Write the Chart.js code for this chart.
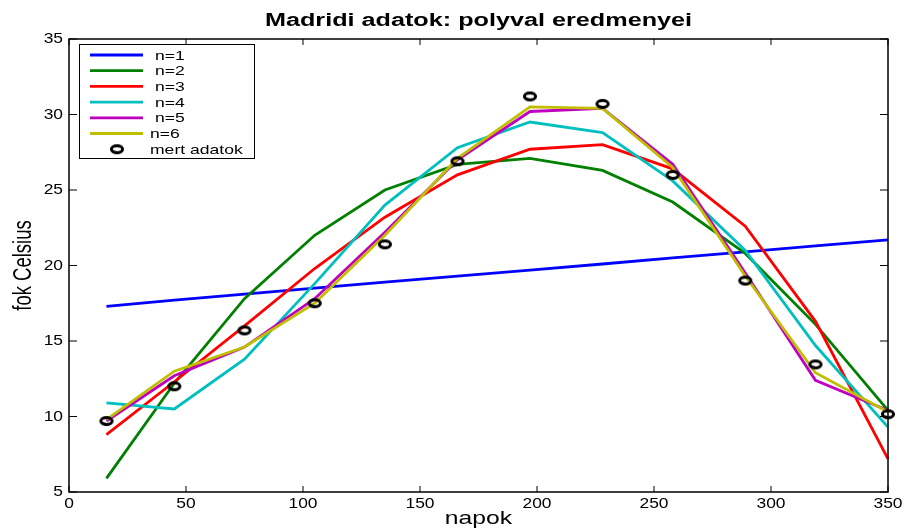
<!DOCTYPE html>
<html lang="hu">
<head>
    <meta charset="UTF-8">
    <title>Madridi adatok: polyval eredmenyei</title>
    <script src="https://cdnjs.cloudflare.com/ajax/libs/Chart.js/4.4.1/chart.umd.min.js"></script>
    <style>
        * { margin: 0; padding: 0; box-sizing: border-box; }
        body { background: #fff; }
        canvas { display: block; }
    </style>
</head>
<body>
    <canvas id="chart" width="904" height="529"></canvas>

    <script>
        // napok (mid-month day of year)
        const days = [16, 45, 75, 105, 135, 166, 197, 228, 258, 289, 319, 350];

        // mert adatok
        const measured = [9.7, 12.0, 15.7, 17.5, 21.4, 26.9, 31.2, 30.7, 26.0, 19.0, 13.45, 10.15];

        // polyval results for degree n = 1..6
        const fitN1 = [17.3, 17.7, 18.1, 18.5, 18.9, 19.3, 19.7, 20.1, 20.5, 20.9, 21.3, 21.7];
        const fitN2 = [5.9, 12.2, 17.8, 22.0, 25.0, 26.7, 27.1, 26.3, 24.2, 20.8, 16.1, 10.4];
        const fitN3 = [8.8, 12.3, 16.0, 19.8, 23.2, 26.0, 27.7, 28.0, 26.4, 22.6, 16.3, 7.2];
        const fitN4 = [10.9, 10.5, 13.8, 18.8, 24.0, 27.8, 29.5, 28.8, 25.6, 21.0, 14.7, 9.3];
        const fitN5 = [9.7, 12.7, 14.6, 17.8, 22.2, 27.0, 30.2, 30.4, 26.7, 19.5, 12.4, 10.4];
        const fitN6 = [9.8, 13.0, 14.6, 17.5, 22.0, 27.1, 30.5, 30.4, 26.5, 19.3, 12.9, 10.3];

        const seriesLabels = ['n=1', 'n=2', 'n=3', 'n=4', 'n=5', 'n=6'];
        const seriesColors = ['#0000FF', '#008000', '#FF0000', '#00BFBF', '#BF00BF', '#BFBF00'];
        const fits = [fitN1, fitN2, fitN3, fitN4, fitN5, fitN6];

        const xTickValues = [0, 50, 100, 150, 200, 250, 300, 350];
        const yTickValues = [5, 10, 15, 20, 25, 30, 35];

        const toPoints = ys => days.map((d, i) => ({ x: d, y: ys[i] }));

        // open ellipse marker ('ko')
        function makeMarker() {
            const c = document.createElement('canvas');
            c.width = 18;
            c.height = 14;
            const g = c.getContext('2d');
            g.strokeStyle = '#000';
            g.lineWidth = 3;
            g.beginPath();
            g.ellipse(9, 7, 5.6, 3.4, 0, 0, Math.PI * 2);
            g.stroke();
            return c;
        }
        const marker = makeMarker();

        // text with horizontal stretch
        function wideText(ctx, str, x, y, sx, align) {
            ctx.save();
            ctx.translate(x, y);
            ctx.scale(sx, 1);
            ctx.textAlign = align;
            ctx.fillText(str, 0, 0);
            ctx.restore();
        }

        const frame = {
            id: 'frame',
            afterDraw(chart) {
                const ctx = chart.ctx;
                const a = chart.chartArea;
                const xs = chart.scales.x;
                const ys = chart.scales.y;
                ctx.save();

                // box
                ctx.strokeStyle = '#000';
                ctx.lineWidth = 1.5;
                ctx.strokeRect(a.left, a.top, a.right - a.left, a.bottom - a.top);

                // inward ticks on all four sides
                ctx.lineWidth = 1;
                ctx.beginPath();
                xTickValues.forEach(v => {
                    const px = xs.getPixelForValue(v);
                    ctx.moveTo(px, a.bottom); ctx.lineTo(px, a.bottom - 6);
                    ctx.moveTo(px, a.top); ctx.lineTo(px, a.top + 6);
                });
                yTickValues.forEach(v => {
                    const py = ys.getPixelForValue(v);
                    ctx.moveTo(a.left, py); ctx.lineTo(a.left + 8, py);
                    ctx.moveTo(a.right, py); ctx.lineTo(a.right - 8, py);
                });
                ctx.stroke();

                // tick labels
                ctx.fillStyle = '#000';
                ctx.font = '14.5px "Liberation Sans", Arial, sans-serif';
                ctx.textBaseline = 'alphabetic';
                xTickValues.forEach(v => {
                    wideText(ctx, String(v), xs.getPixelForValue(v), a.bottom + 16, 1.2, 'center');
                });
                ctx.textBaseline = 'middle';
                yTickValues.forEach(v => {
                    wideText(ctx, String(v), a.left - 6, ys.getPixelForValue(v), 1.2, 'right');
                });

                // title and axis titles
                const cx = (a.left + a.right) / 2;
                ctx.textBaseline = 'alphabetic';
                ctx.font = 'bold 18px "Liberation Sans", Arial, sans-serif';
                wideText(ctx, 'Madridi adatok: polyval eredmenyei', cx, 26, 1.4, 'center');
                ctx.font = '19px "Liberation Sans", Arial, sans-serif';
                wideText(ctx, 'napok', cx, 524, 1.3, 'center');

                ctx.save();
                ctx.translate(31, (a.top + a.bottom) / 2);
                ctx.scale(1.4, 1);
                ctx.rotate(-Math.PI / 2);
                ctx.font = '18.5px "Liberation Sans", Arial, sans-serif';
                ctx.textAlign = 'center';
                ctx.fillText('fok Celsius', 0, 0);
                ctx.restore();

                // legend
                const lx = 79.5, ly = 44.5, lw = 175, lh = 114;
                ctx.fillStyle = '#fff';
                ctx.fillRect(lx, ly, lw, lh);
                ctx.strokeStyle = '#000';
                ctx.lineWidth = 1;
                ctx.strokeRect(lx, ly, lw, lh);
                ctx.font = '13px "Liberation Sans", Arial, sans-serif';
                ctx.textBaseline = 'middle';
                const rowY = i => 55 + i * 15.7;
                seriesLabels.forEach((lab, i) => {
                    const y = rowY(i);
                    ctx.strokeStyle = seriesColors[i];
                    ctx.lineWidth = 2.8;
                    ctx.beginPath();
                    ctx.moveTo(90, y);
                    ctx.lineTo(143, y);
                    ctx.stroke();
                    ctx.fillStyle = '#000';
                    wideText(ctx, lab, i === 5 ? 150 : 155, y + 1, 1.35, 'left');
                });
                const my = rowY(6);
                ctx.drawImage(marker, 117 - marker.width / 2, my - marker.height / 2);
                ctx.fillStyle = '#000';
                wideText(ctx, 'mert adatok', 150, my + 1, 1.35, 'left');

                ctx.restore();
            }
        };

        const datasets = fits.map((ys, i) => ({
            label: seriesLabels[i],
            data: toPoints(ys),
            showLine: true,
            borderColor: seriesColors[i],
            borderWidth: 2.8,
            pointRadius: 0,
            tension: 0,
            clip: false,
            order: 6 - i
        }));
        datasets.push({
            label: 'mert adatok',
            data: toPoints(measured),
            showLine: false,
            pointStyle: marker,
            pointRadius: 6,
            clip: false,
            order: 0
        });

        new Chart(document.getElementById('chart'), {
            type: 'scatter',
            data: { datasets },
            options: {
                responsive: false,
                animation: false,
                layout: { padding: { top: 39, right: 16, left: 0, bottom: 0 } },
                scales: {
                    x: {
                        type: 'linear',
                        min: 0,
                        max: 350,
                        ticks: { stepSize: 50, display: false },
                        grid: { display: false, drawTicks: false },
                        border: { display: false },
                        afterFit(s) { s.height = 37; }
                    },
                    y: {
                        type: 'linear',
                        min: 5,
                        max: 35,
                        ticks: { stepSize: 5, display: false },
                        grid: { display: false, drawTicks: false },
                        border: { display: false },
                        afterFit(s) { s.width = 69; }
                    }
                },
                plugins: {
                    legend: { display: false },
                    tooltip: { enabled: false }
                }
            },
            plugins: [frame]
        });
    </script>
</body>
</html>
